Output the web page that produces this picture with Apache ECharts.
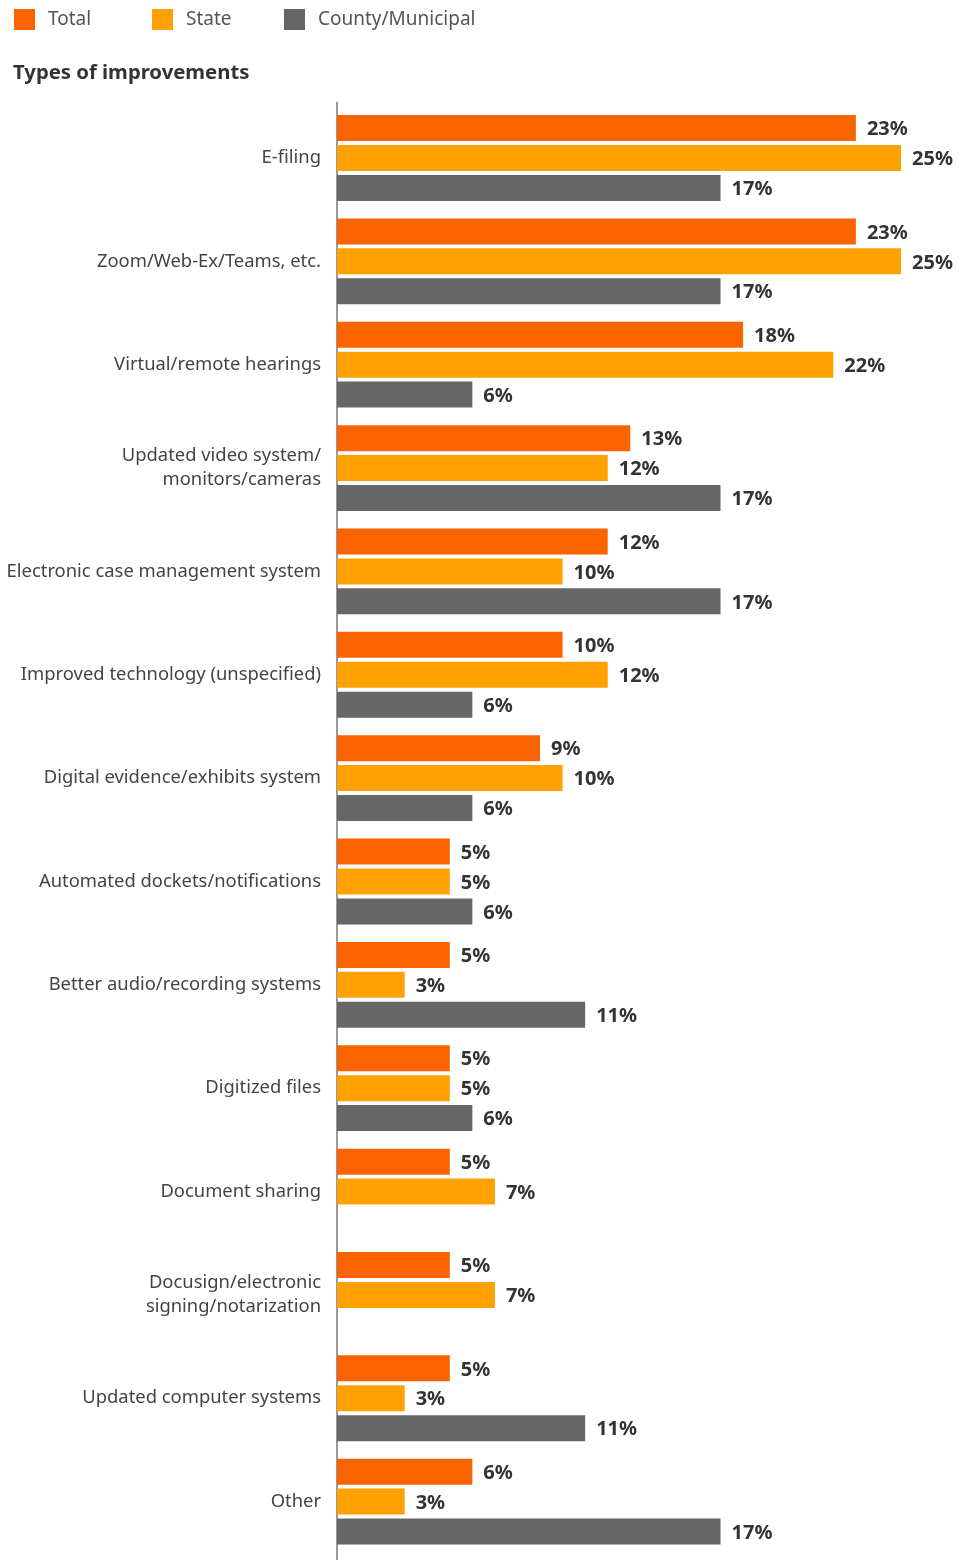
<!DOCTYPE html>
<html>
<head>
<meta charset="utf-8">
<script src="https://cdn.jsdelivr.net/npm/echarts@6/dist/echarts.min.js"></script>
<style>
html,body{margin:0;padding:0;background:#fff;}
#chart{width:967px;height:1560px;}
</style>
</head>
<body>
<div id="chart"></div>
<script>
const categories = [
  'E-filing',
  'Zoom/Web-Ex/Teams, etc.',
  'Virtual/remote hearings',
  'Updated video system/\nmonitors/cameras',
  'Electronic case management system',
  'Improved technology (unspecified)',
  'Digital evidence/exhibits system',
  'Automated dockets/notifications',
  'Better audio/recording systems',
  'Digitized files',
  'Document sharing',
  'Docusign/electronic\nsigning/notarization',
  'Updated computer systems',
  'Other'
];
const totalValues  = [23, 23, 18, 13, 12, 10, 9, 5, 5, 5, 5, 5, 5, 6];
const stateValues  = [25, 25, 22, 12, 10, 12, 10, 5, 3, 5, 7, 7, 3, 3];
const countyValues = [17, 17, 6, 17, 17, 6, 6, 6, 11, 6, null, null, 11, 17];
const seriesNames = ['Total', 'State', 'County/Municipal'];
const seriesColors = ['#F96300', '#FFA100', '#666666'];

const FONT = '"Noto Sans", "Open Sans", sans-serif';
const chart = echarts.init(document.getElementById('chart'), null, {renderer: 'canvas'});

function mkSeries(name, data, color) {
  return {
    name: name,
    type: 'bar',
    data: data,
    barWidth: 26,
    barGap: '15%',
    itemStyle: {color: color},
    label: {
      show: true,
      position: 'right',
      distance: 11,
      offset: [0, 1.5],
      formatter: p => (p.value == null ? '' : p.value + '%'),
      color: '#333',
      fontFamily: FONT,
      fontWeight: 'bold',
      fontSize: 20
    },
    animation: false
  };
}

function mkLegend(name, left) {
  return {
    data: [name],
    left: left,
    top: 9,
    padding: 0,
    itemWidth: 21,
    itemHeight: 21,
    icon: 'rect',
    selectedMode: false,
    textStyle: {color: '#555', fontFamily: FONT, fontSize: 19, padding: [2, 0, 0, 8]}
  };
}

chart.setOption({
  animation: false,
  title: {
    text: 'Types of improvements',
    left: 13,
    top: 63,
    padding: 0,
    textStyle: {color: '#333', fontFamily: FONT, fontWeight: 'bold', fontSize: 20.3}
  },
  legend: [mkLegend('Total', 14), mkLegend('State', 152), mkLegend('County/Municipal', 284)],
  grid: {left: 337, top: 106.3, width: 564, height: 1447},
  xAxis: {type: 'value', min: 0, max: 25, show: false},
  yAxis: {
    type: 'category',
    data: categories,
    inverse: true,
    axisLine: {show: false},
    axisTick: {show: false},
    axisLabel: {color: '#444', fontFamily: FONT, fontSize: 18.4, margin: 16, lineHeight: 24, align: 'right', padding: [4, 0, 0, 0]}
  },
  graphic: [{
    type: 'line',
    shape: {x1: 337, y1: 102, x2: 337, y2: 1560},
    style: {stroke: '#777', lineWidth: 1.5}
  }],
  series: [
    mkSeries(seriesNames[0], totalValues, seriesColors[0]),
    mkSeries(seriesNames[1], stateValues, seriesColors[1]),
    mkSeries(seriesNames[2], countyValues, seriesColors[2])
  ]
});
</script>
</body>
</html>
